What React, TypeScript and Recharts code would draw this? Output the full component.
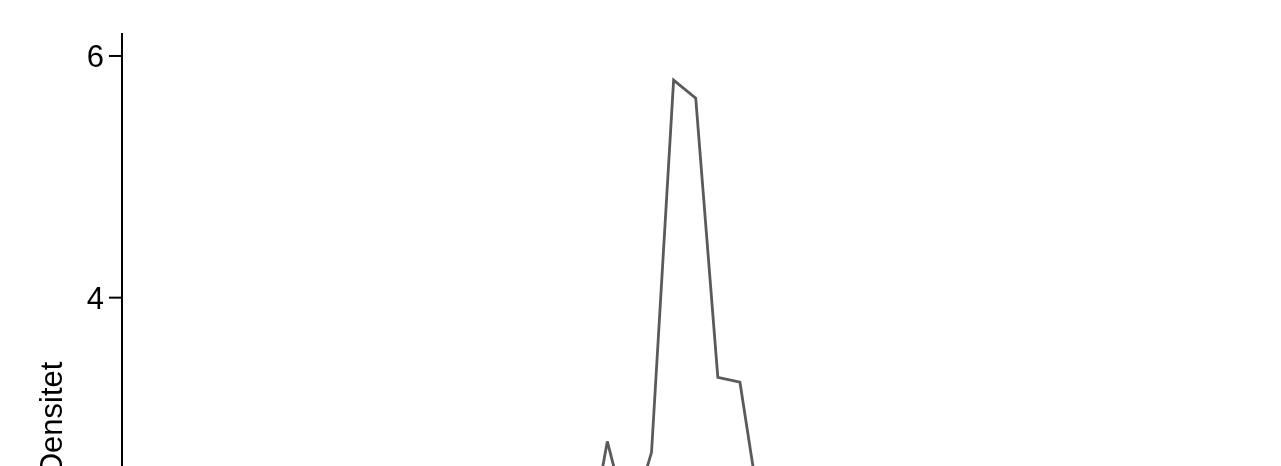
import React from "react";
import { LineChart, Line, XAxis, YAxis } from "recharts";

const binMids = [
  0.1, 0.12, 0.14, 0.16, 0.18, 0.2, 0.22, 0.24, 0.26, 0.28, 0.3, 0.32, 0.34,
  0.36, 0.38, 0.4, 0.42, 0.44, 0.46, 0.48, 0.5, 0.52, 0.54, 0.56, 0.58, 0.6,
  0.62, 0.64, 0.66, 0.68, 0.7, 0.72, 0.74, 0.76, 0.78, 0.8, 0.82, 0.84, 0.86,
  0.88, 0.9, 0.92, 0.94, 0.96, 0.98, 1.0, 1.02, 1.04,
];

const densities = [
  0.05, 0.1, 0.1, 0.15, 0.2, 0.2, 0.3, 0.35, 0.4, 0.45, 0.55, 0.6, 0.7, 0.85,
  0.95, 1.1, 1.25, 1.4, 1.55, 1.8, 2.81, 2.1, 2.72, 5.8, 5.65, 3.34, 3.3,
  2.12, 1.75, 1.4, 1.1, 0.9, 0.7, 0.55, 0.45, 0.35, 0.3, 0.25, 0.2, 0.15,
  0.12, 0.1, 0.08, 0.06, 0.05, 0.04, 0.03, 0.02,
];

const yTicks = [0, 2, 4, 6];

const data = binMids.map((x, i) => ({ x, density: densities[i] }));

const FONT = "'Liberation Sans', Arial, sans-serif";

const YLabel = (props: any) => {
  const vb = props.viewBox || { y: 0, height: 0 };
  const cy = vb.y + vb.height / 2;
  const x = 54;
  return (
    <text
      x={x}
      y={cy}
      transform={`rotate(-90, ${x}, ${cy})`}
      textAnchor="middle"
      fontSize={31}
      fontFamily={FONT}
      fill="#000"
    >
      Densitet
    </text>
  );
};

export default function App() {
  return (
    <div
      style={{
        position: "fixed",
        top: 8,
        left: 8,
        width: 1265,
        height: 458,
        overflow: "hidden",
      }}
    >
      <LineChart
        width={1265}
        height={860}
        data={data}
        margin={{ top: 25, right: 23, bottom: 64, left: 0 }}
      >
        <XAxis
          dataKey="x"
          type="number"
          domain={[0.0608, 1.0816]}
          allowDataOverflow
          hide
        />
        <YAxis
          width={114}
          domain={[-0.19, 6.19]}
          ticks={yTicks}
          allowDataOverflow
          axisLine={{ stroke: "#000", strokeWidth: 2 }}
          tickLine={{ stroke: "#000", strokeWidth: 2 }}
          tickSize={13}
          tickMargin={5}
          tick={{ fill: "#000", fontSize: 31, fontFamily: FONT }}
          label={<YLabel />}
        />
        <Line
          type="linear"
          dataKey="density"
          stroke="#5a5a5a"
          strokeWidth={2.8}
          dot={false}
          isAnimationActive={false}
        />
      </LineChart>
    </div>
  );
}
